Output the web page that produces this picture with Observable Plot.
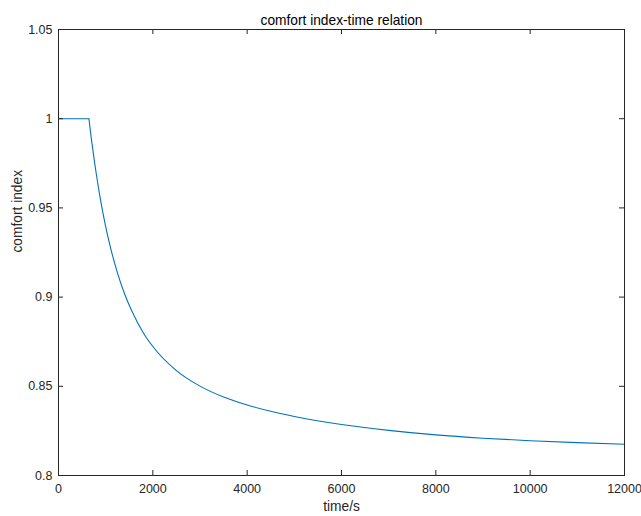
<!DOCTYPE html>
<html>
<head>
<meta charset="utf-8">
<script src="https://cdn.jsdelivr.net/npm/d3@7"></script>
<script src="https://cdn.jsdelivr.net/npm/@observablehq/plot@0.6"></script>
<style>
  html, body { margin: 0; padding: 0; background: #fff; }
  svg { display: block; }
</style>
</head>
<body>
<div id="chart"></div>
<script>
const timeValues = [0, 645, 700, 763, 800, 890, 1000, 1100, 1250, 1400, 1550, 1800, 2000, 2500, 3000, 3500, 4000, 4500, 5000, 6000, 7000, 8000, 9000, 10000, 11000, 12000];
const comfortValues = [1, 1, 0.988, 0.9758, 0.9693, 0.9546, 0.9395, 0.928, 0.9136, 0.9019, 0.8925, 0.8799, 0.8723, 0.8588, 0.8501, 0.8440, 0.8395, 0.8360, 0.8331, 0.8286, 0.8253, 0.82275, 0.8209, 0.8195, 0.8184, 0.8175];
const xTicks = [0, 2000, 4000, 6000, 8000, 10000, 12000];
const yTicks = [0.8, 0.85, 0.9, 0.95, 1, 1.05];
const titleText = "comfort index-time relation";
const xLabel = "time/s";
const yLabel = "comfort index";

const data = timeValues.map((t, i) => ({t, v: comfortValues[i]}));
const flat = data.slice(0, 2);
const decay = data.slice(1);

const W = 641, H = 516, mL = 58, mR = 17, mT = 29, mB = 41;
const pw = W - mL - mR, ph = H - mT - mB;
const axisColor = "#262626";
const font = "'Liberation Sans', Arial, Helvetica, sans-serif";

const chart = Plot.plot({
  width: W,
  height: H,
  marginLeft: mL,
  marginRight: mR,
  marginTop: mT,
  marginBottom: mB,
  style: {fontFamily: font, fontSize: "12.5px", color: axisColor, background: "#fff"},
  x: {domain: [0, 12000]},
  y: {domain: [0.8, 1.05]},
  marks: [
    Plot.line(flat, {x: "t", y: "v", stroke: "#0072BD", strokeWidth: 1.1}),
    Plot.line(decay, {x: "t", y: "v", stroke: "#0072BD", strokeWidth: 1.1, curve: "monotone-x"}),
    // inward ticks on all four sides
    Plot.tickX(xTicks, {x: d => d, stroke: axisColor, insetTop: ph - 5}),
    Plot.tickX(xTicks, {x: d => d, stroke: axisColor, insetBottom: ph - 5}),
    Plot.tickY(yTicks, {y: d => d, stroke: axisColor, insetRight: pw - 5}),
    Plot.tickY(yTicks, {y: d => d, stroke: axisColor, insetLeft: pw - 5}),
    Plot.frame({stroke: axisColor, strokeWidth: 1}),
    Plot.axisX(xTicks, {tickSize: 0, tickPadding: 9, tickFormat: d => String(d), label: null, fill: axisColor, fontSize: 12.5}),
    Plot.axisY(yTicks, {tickSize: 0, tickPadding: 6, tickFormat: d => String(d), label: null, fill: axisColor, fontSize: 12.5}),
    Plot.text([titleText], {frameAnchor: "top", dy: -14, fontSize: 13.75, fill: "#000"}),
    Plot.text([xLabel], {frameAnchor: "bottom", dy: 35, fontSize: 13.75, fill: axisColor}),
    Plot.text([yLabel], {frameAnchor: "left", dx: -41, rotate: -90, fontSize: 13.75, fill: axisColor})
  ]
});
document.getElementById("chart").appendChild(chart);
</script>
</body>
</html>
